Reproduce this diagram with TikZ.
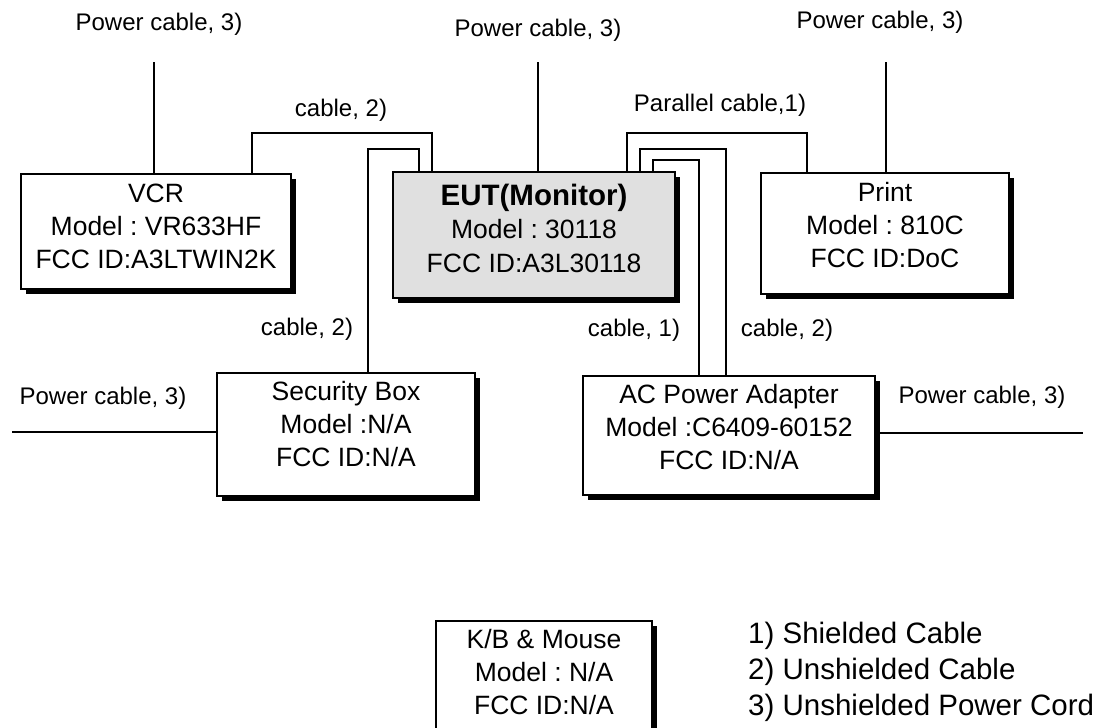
\documentclass[tikz,border=0pt]{standalone}
\usepackage{fontspec}
\setmainfont{Liberation Sans}
\frenchspacing
\usetikzlibrary{shadows}
\definecolor{eutgray}{RGB}{224,224,224}
\tikzset{
  box/.style={draw=black, line width=1.2pt, fill=white, inner sep=0pt,
    drop shadow={shadow xshift=5pt, shadow yshift=-5pt, fill=black, opacity=1}},
  boxtxt/.style={inner sep=0pt, align=center, font=\fontsize{26.5}{33}\selectfont},
  lbl/.style={inner sep=0pt, font=\fontsize{24}{28}\selectfont},
  legend/.style={inner sep=0pt, align=left, anchor=west, font=\fontsize{29.5}{36}\selectfont},
  cable/.style={draw=black, line width=1.2pt}
}
\begin{document}
\begin{tikzpicture}[x=1pt,y=-1pt]
\clip (0,0) rectangle (1109,728);
\useasboundingbox (0,0) rectangle (1109,728);
\fill[white] (0,0) rectangle (1109,728);

% boxes
\node[box, minimum width=270pt, minimum height=115pt] (vcr) at (156,231.5) {};
\node[box, fill=eutgray, minimum width=282pt, minimum height=126pt] (eut) at (534,235) {};
\node[box, minimum width=248pt, minimum height=121pt] (prn) at (885,233.5) {};
\node[box, minimum width=258pt, minimum height=123pt] (sec) at (346,434.5) {};
\node[box, minimum width=292pt, minimum height=119pt] (ac) at (729,435.5) {};
\node[box, minimum width=216pt, minimum height=120pt] (kb) at (544,681) {};

% box texts
\node[boxtxt] (vcrT) at (156,226) {VCR\\Model : VR633HF\\FCC ID:A3LTWIN2K};
\node[boxtxt, font=\fontsize{26.5}{33.5}\selectfont] (eutT) at (534,228) {{\fontsize{29.5}{33.5}\selectfont\bfseries EUT(Monitor)}\\Model : 30118\\FCC ID:A3L30118};
\node[boxtxt] (prnT) at (885,225) {Print\\Model : 810C\\FCC ID:DoC};
\node[boxtxt] (secT) at (346,424.5) {Security Box\\Model :N/A\\FCC ID:N/A};
\node[boxtxt] (acT) at (729,427) {AC Power Adapter\\Model :C6409-60152\\FCC ID:N/A};
\node[boxtxt] (kbT) at (544,672) {K/B \& Mouse\\Model : N/A\\FCC ID:N/A};

% free ends
\coordinate (pv) at (154,62);
\coordinate (pe) at (538,62);
\coordinate (pp) at (886,62);
\coordinate (pl) at (12,432);
\coordinate (pr) at (1083,433);

% power cables
\draw[cable] (pv) -- (pv |- vcr.north);
\draw[cable] (pe) -- (pe |- eut.north);
\draw[cable] (pp) -- (pp |- prn.north);
\draw[cable] (pl) -- (pl -| sec.west);
\draw[cable] (pr -| ac.east) -- (pr);

% VCR - EUT
\draw[cable] (252,0 |- vcr.north) -- (252,133) -- (432,133) -- (432,0 |- eut.north);
% Security - EUT
\draw[cable] (368,0 |- sec.north) -- (368,149) -- (419,149) -- (419,0 |- eut.north);
% EUT - Printer (parallel)
\draw[cable] (627,0 |- eut.north) -- (627,133) -- (807,133) -- (807,0 |- prn.north);
% EUT - AC
\draw[cable] (640,0 |- eut.north) -- (640,149) -- (726,149) -- (726,0 |- ac.north);
\draw[cable] (653,0 |- eut.north) -- (653,160) -- (699,160) -- (699,0 |- ac.north);

% labels
\node[lbl] (l1) at (159,24) {Power cable, 3)};
\node[lbl] (l2) at (538,30) {Power cable, 3)};
\node[lbl] (l3) at (880,22) {Power cable, 3)};
\node[lbl] (l4) at (341,110) {cable, 2)};
\node[lbl] (l5) at (720,105) {Parallel cable,1)};
\node[lbl] (l6) at (307,329) {cable, 2)};
\node[lbl] (l7) at (634,330) {cable, 1)};
\node[lbl] (l8) at (787,330) {cable, 2)};
\node[lbl] (l9) at (103,398) {Power cable, 3)};
\node[lbl] (l10) at (982,397) {Power cable, 3)};

% legend
\node[legend] (lg1) at (748,636) {1) Shielded Cable};
\node[legend] (lg2) at (748,672) {2) Unshielded Cable};
\node[legend] (lg3) at (748,708) {3) Unshielded Power Cord};
\end{tikzpicture}
\end{document}
